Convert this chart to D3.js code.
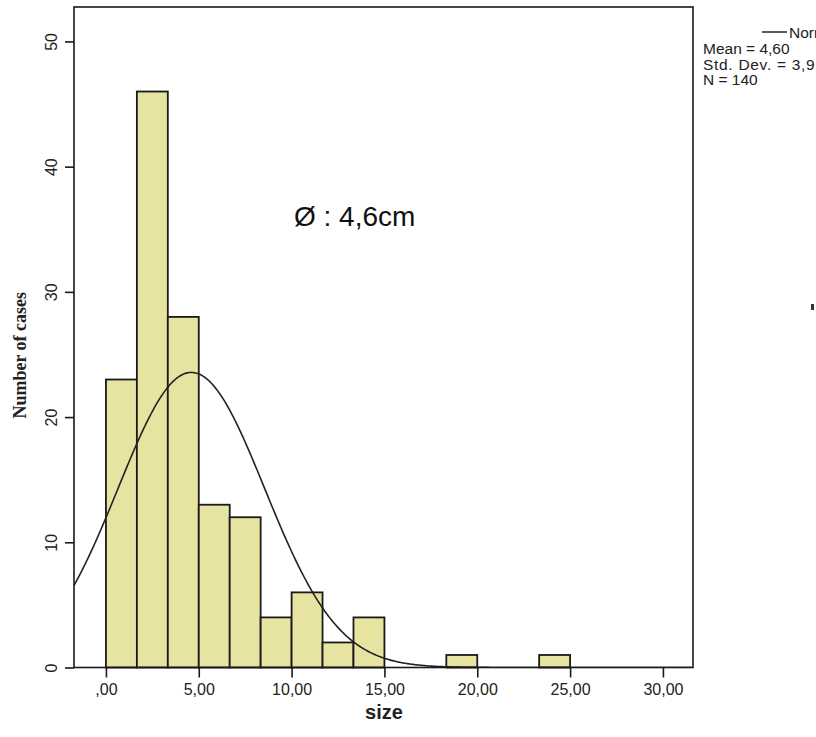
<!DOCTYPE html>
<html>
<head>
<meta charset="utf-8">
<script src="https://cdn.jsdelivr.net/npm/d3@7"></script>
<style>
  html, body { margin: 0; padding: 0; background: #fff; }
  svg { display: block; }
</style>
</head>
<body>
<svg id="chart" width="816" height="737"></svg>
<script>
// ---- data ----
const binWidth = 5 / 3;                       // histogram bin width (size units)
const binIndex = [0, 1, 2, 3, 4, 5, 6, 7, 8, 11, 14];
const binCounts = [23, 46, 28, 13, 12, 4, 6, 2, 4, 1, 1];
const xTicks = [0, 5, 10, 15, 20, 25, 30];
const yTicks = [0, 10, 20, 30, 40, 50];
const normMean = 4.60;
const normSD = 3.95;
const normN = 140;
const legendLines = ["Mean = 4,60", "Std. Dev. = 3,95", "N = 140"];
const legendName = "Normal";
const annotation = "Ø : 4,6cm";
const xTitle = "size";
const yTitle = "Number of cases";

// ---- layout ----
const svg = d3.select("#chart");
const frame = { left: 74, right: 693, top: 7, bottom: 667.5 };

const x = d3.scaleLinear().domain([-1.72, 31.62]).range([frame.left, frame.right]);
const y = d3.scaleLinear().domain([0, 52.75]).range([frame.bottom, frame.top]);

// clip for plot area
svg.append("defs").append("clipPath").attr("id", "plotClip")
  .append("rect")
  .attr("x", frame.left).attr("y", frame.top)
  .attr("width", frame.right - frame.left).attr("height", frame.bottom - frame.top);

// bars
const bins = binIndex.map((b, i) => ({ x0: b * binWidth, x1: (b + 1) * binWidth, n: binCounts[i] }));
svg.append("g").selectAll("rect").data(bins).join("rect")
  .attr("x", d => x(d.x0))
  .attr("y", d => y(d.n))
  .attr("width", d => x(d.x1) - x(d.x0))
  .attr("height", d => y(0) - y(d.n))
  .attr("fill", "#e6e4a0")
  .attr("stroke", "#1a1a1a")
  .attr("stroke-width", 1.8);

// normal curve
const curvePts = d3.range(-1.72, 31.62, 0.05).map(v => {
  const z = (v - normMean) / normSD;
  return [v, normN * binWidth * Math.exp(-0.5 * z * z) / (normSD * Math.sqrt(2 * Math.PI))];
});
svg.append("path")
  .datum(curvePts)
  .attr("clip-path", "url(#plotClip)")
  .attr("fill", "none")
  .attr("stroke", "#222")
  .attr("stroke-width", 1.6)
  .attr("d", d3.line().x(d => x(d[0])).y(d => y(d[1])));

// frame
svg.append("rect")
  .attr("x", frame.left).attr("y", frame.top)
  .attr("width", frame.right - frame.left).attr("height", frame.bottom - frame.top)
  .attr("fill", "none").attr("stroke", "#1a1a1a").attr("stroke-width", 1.6);

// y axis
const yAxis = svg.append("g")
  .attr("transform", `translate(${frame.left},0)`)
  .call(d3.axisLeft(y).tickValues(yTicks).tickSize(9).tickFormat(d => d));
yAxis.select(".domain").remove();
yAxis.selectAll("line").attr("stroke", "#1a1a1a").attr("stroke-width", 1.6);
yAxis.selectAll("text")
  .attr("x", null).attr("dy", null)
  .attr("transform", "translate(-17,0) rotate(-90)")
  .attr("text-anchor", "middle")
  .attr("font-family", "Liberation Sans, Arial, sans-serif")
  .attr("font-size", 16)
  .attr("fill", "#222");

// x axis
const fmt = d => d === 0 ? ",00" : d.toFixed(2).replace(".", ",");
const xAxis = svg.append("g")
  .attr("transform", `translate(0,${frame.bottom})`)
  .call(d3.axisBottom(x).tickValues(xTicks).tickSize(10).tickFormat(fmt));
xAxis.select(".domain").remove();
xAxis.selectAll("line").attr("stroke", "#1a1a1a").attr("stroke-width", 1.6);
xAxis.selectAll("text")
  .attr("y", 27).attr("dy", null)
  .attr("font-family", "Liberation Sans, Arial, sans-serif")
  .attr("font-size", 16)
  .attr("fill", "#222");

// axis titles
svg.append("text")
  .attr("x", (frame.left + frame.right) / 2 + 0.5).attr("y", 719)
  .attr("text-anchor", "middle")
  .attr("font-family", "Liberation Sans, Arial, sans-serif")
  .attr("font-weight", "bold")
  .attr("font-size", 20)
  .attr("fill", "#222")
  .text(xTitle);

svg.append("text")
  .attr("transform", `translate(26,${(frame.top + frame.bottom) / 2 + 18}) rotate(-90)`)
  .attr("text-anchor", "middle")
  .attr("font-family", "Liberation Serif, Times New Roman, serif")
  .attr("font-weight", "bold")
  .attr("font-size", 18)
  .attr("fill", "#222")
  .text(yTitle);

// annotation
svg.append("text")
  .attr("x", 294).attr("y", 226)
  .attr("font-family", "Liberation Sans, Arial, sans-serif")
  .attr("font-size", 28)
  .attr("fill", "#111")
  .text(annotation);

// legend (outside frame, runs off the page edge as in the reference)
const lg = svg.append("g").attr("font-family", "Liberation Sans, Arial, sans-serif").attr("font-size", 15.5).attr("fill", "#222");
lg.append("line").attr("x1", 762).attr("x2", 787).attr("y1", 32).attr("y2", 32)
  .attr("stroke", "#222").attr("stroke-width", 1.5);
lg.append("text").attr("x", 789).attr("y", 38).text(legendName);
lg.selectAll("text.stat").data(legendLines).join("text")
  .attr("class", "stat")
  .attr("x", 703)
  .attr("y", (d, i) => 54 + i * 15.5)
  .attr("letter-spacing", (d, i) => i === 1 ? 0.7 : 0)
  .text(d => d);

// small dark mark at the right page edge
svg.append("rect").attr("x", 811).attr("y", 304).attr("width", 3).attr("height", 6).attr("fill", "#333");
</script>
</body>
</html>
